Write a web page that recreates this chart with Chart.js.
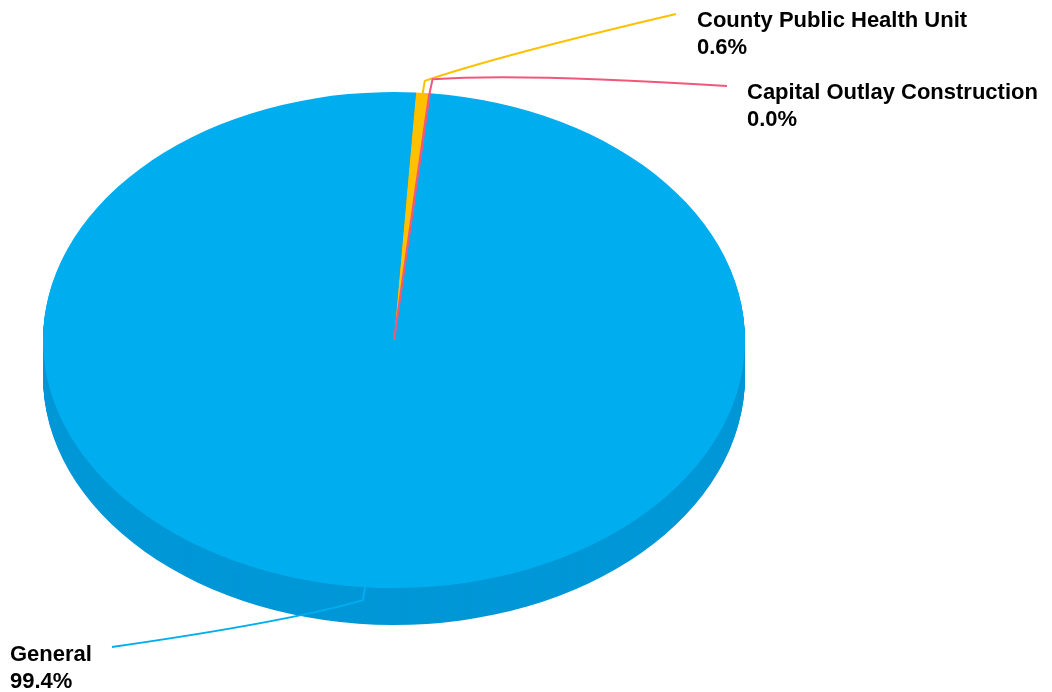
<!DOCTYPE html>
<html>
<head>
<meta charset="utf-8">
<script src="https://cdn.jsdelivr.net/npm/chart.js@4.4.1/dist/chart.umd.min.js"></script>
<style>
  html, body { margin: 0; padding: 0; background: #fff; }
  #wrap { width: 1052px; height: 692px; }
</style>
</head>
<body>
<div id="wrap"><canvas id="fundChart"></canvas></div>
<script>
const funds = ['General', 'County Public Health Unit', 'Capital Outlay Construction'];
const fundShares = [99.38, 0.6, 0.02];
const fundColors = ['#00AEEF', '#FFC000', '#F0587A'];
const sideColors = ['#0097D7', '#D9A300', '#C94966'];

// ellipse the flat pie gets squashed onto, and rim thickness
const tilt = { cx: 394, cy: 340, rx: 351, ry: 248, depth: 37 };

// leader lines: bend below/above the slice edge, curve control, end, text start
const callouts = [
  { elbow: [-2, 13], ctrl: [287, 622], end: [112, 647], text: [10, 661] },
  { elbow: [2, -12], ctrl: [501, 55], end: [676, 14], text: [697, 27] },
  { elbow: [3, -14], ctrl: [520, 73], end: [727, 86], text: [747, 99] }
];

function project(ctx, arc) {
  ctx.translate(tilt.cx, tilt.cy);
  ctx.scale(tilt.rx / arc.outerRadius, tilt.ry / arc.outerRadius);
  ctx.translate(-arc.x, -arc.y);
}

const pie3d = {
  id: 'pie3d',
  beforeDatasetsDraw(chart) {
    const ctx = chart.ctx;
    const arcs = chart.getDatasetMeta(0).data;
    // rim: stack each slice downwards in a darker shade
    for (let d = tilt.depth; d >= 1; d--) {
      arcs.forEach((arc, i) => {
        if (arc.endAngle - arc.startAngle <= 0) return;
        ctx.save();
        ctx.translate(0, d);
        project(ctx, arc);
        ctx.beginPath();
        ctx.moveTo(arc.x, arc.y);
        ctx.arc(arc.x, arc.y, arc.outerRadius, arc.startAngle, arc.endAngle);
        ctx.closePath();
        ctx.fillStyle = sideColors[i];
        ctx.fill();
        ctx.restore();
      });
    }
    ctx.save();
    project(ctx, arcs[0]);
  },
  afterDatasetsDraw(chart) {
    const ctx = chart.ctx;
    ctx.restore();
    const arcs = chart.getDatasetMeta(0).data;
    const total = fundShares.reduce((a, b) => a + b, 0);
    arcs.forEach((arc, i) => {
      const c = callouts[i];
      const mid = (arc.startAngle + arc.endAngle) / 2;
      const px = tilt.cx + tilt.rx * Math.cos(mid);
      const py = tilt.cy + tilt.ry * Math.sin(mid);
      ctx.save();
      ctx.strokeStyle = fundColors[i];
      ctx.lineWidth = 2;
      ctx.lineJoin = 'round';
      ctx.beginPath();
      ctx.moveTo(px, py);
      ctx.lineTo(px + c.elbow[0], py + c.elbow[1]);
      ctx.quadraticCurveTo(c.ctrl[0], c.ctrl[1], c.end[0], c.end[1]);
      ctx.stroke();

      ctx.fillStyle = '#000';
      ctx.font = 'bold 22px "Liberation Sans", Arial, sans-serif';
      ctx.textBaseline = 'alphabetic';
      ctx.textAlign = 'left';
      ctx.fillText(funds[i], c.text[0], c.text[1]);
      ctx.fillText((fundShares[i] / total * 100).toFixed(1) + '%', c.text[0], c.text[1] + 27);
      ctx.restore();
    });
  }
};

new Chart(document.getElementById('fundChart'), {
  type: 'pie',
  data: {
    labels: funds,
    datasets: [{
      data: fundShares,
      backgroundColor: fundColors,
      borderColor: fundColors,
      borderWidth: [0, 0, 2],
      clip: false
    }]
  },
  options: {
    responsive: true,
    maintainAspectRatio: false,
    animation: false,
    rotation: 5.85,
    layout: { padding: 20 },
    plugins: {
      legend: { display: false },
      tooltip: { enabled: false }
    }
  },
  plugins: [pie3d]
});
</script>
</body>
</html>
